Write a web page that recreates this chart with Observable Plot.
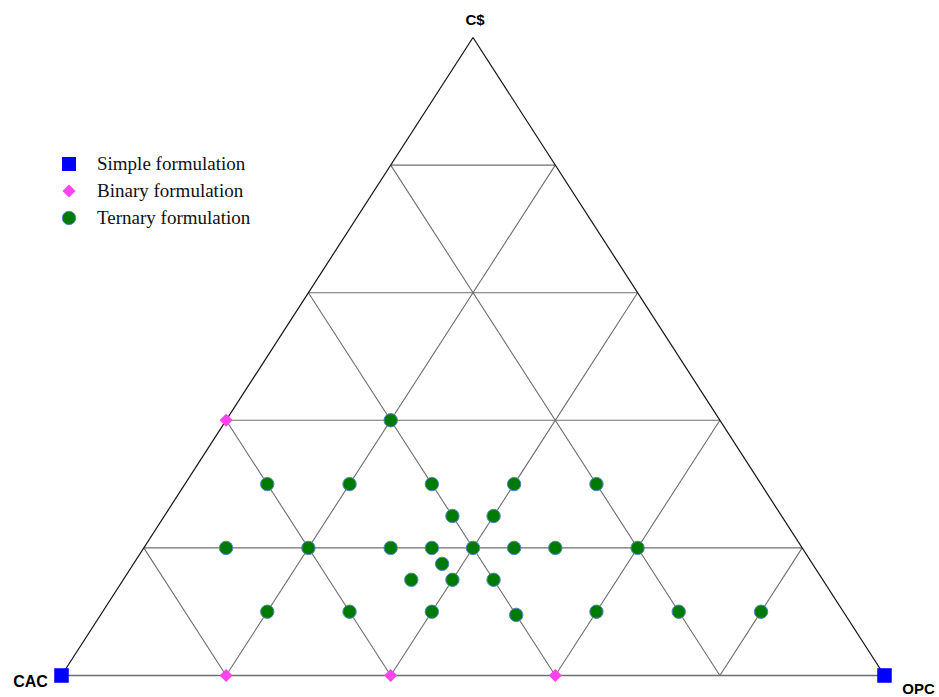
<!DOCTYPE html>
<html>
<head>
<meta charset="utf-8">
<script src="https://cdn.jsdelivr.net/npm/d3@7"></script>
<script src="https://cdn.jsdelivr.net/npm/@observablehq/plot@0.6"></script>
<style>
  html, body { margin: 0; padding: 0; background: #fff; }
  #wrap { position: relative; width: 939px; height: 697px; }
  #legend { position: absolute; left: 60px; top: 150px; font-family: "Liberation Serif", "Times New Roman", serif; font-size: 19px; color: #111; }
  #legend .row { display: flex; align-items: center; height: 27px; }
  #legend svg { width: 18px; height: 18px; margin-right: 19px; }
</style>
</head>
<body>
<div id="wrap">
  <div id="chart"></div>
  <div id="legend"></div>
</div>
<script>
// Vertex names (CAC, OPC, C$)
const vertexNames = ["CAC", "OPC", "C$"];
// Grid levels
const gridLevels = [0.2, 0.4, 0.6, 0.8];

// Compositions as [CAC, OPC, C$]
const simplePts = [[1, 0, 0], [0, 1, 0]];
const binaryPts = [[0.6, 0, 0.4], [0.8, 0.2, 0], [0.6, 0.4, 0], [0.4, 0.6, 0]];
const ternaryPts = [
  [0.4, 0.2, 0.4],
  [0.6, 0.1, 0.3], [0.5, 0.2, 0.3], [0.4, 0.3, 0.3], [0.3, 0.4, 0.3], [0.2, 0.5, 0.3],
  [0.4, 0.35, 0.25], [0.35, 0.4, 0.25],
  [0.7, 0.1, 0.2], [0.6, 0.2, 0.2], [0.5, 0.3, 0.2], [0.45, 0.35, 0.2], [0.4, 0.4, 0.2],
  [0.35, 0.45, 0.2], [0.3, 0.5, 0.2], [0.2, 0.6, 0.2],
  [0.45, 0.375, 0.175],
  [0.5, 0.35, 0.15], [0.45, 0.4, 0.15], [0.4, 0.45, 0.15],
  [0.7, 0.2, 0.1], [0.6, 0.3, 0.1], [0.5, 0.4, 0.1], [0.4, 0.505, 0.095],
  [0.3, 0.6, 0.1], [0.2, 0.7, 0.1], [0.1, 0.8, 0.1]
];

const legendLabels = ["Simple formulation", "Binary formulation", "Ternary formulation"];

// ternary -> cartesian (x in [0,1], y in [0,1])
const tx = ([a, b, c]) => b + c / 2;
const ty = ([a, b, c]) => c;
const toXY = p => ({x: tx(p), y: ty(p)});

// grid segments
const grid = [];
for (const k of gridLevels) {
  grid.push({p1: [1 - k, 0, k], p2: [0, 1 - k, k]});   // C$ = k
  grid.push({p1: [1 - k, k, 0], p2: [0, k, 1 - k]});   // OPC = k
  grid.push({p1: [k, 1 - k, 0], p2: [k, 0, 1 - k]});   // CAC = k
}
const gridSegs = grid.map(s => ({x1: tx(s.p1), y1: ty(s.p1), x2: tx(s.p2), y2: ty(s.p2)}));
const bottomEdge = [{x1: tx([1,0,0]), y1: ty([1,0,0]), x2: tx([0,1,0]), y2: ty([0,1,0])}];
const sideEdges = [
  {x1: tx([1,0,0]), y1: ty([1,0,0]), x2: tx([0,0,1]), y2: ty([0,0,1])},
  {x1: tx([0,1,0]), y1: ty([0,1,0]), x2: tx([0,0,1]), y2: ty([0,0,1])}
];
const vertices = [[1,0,0],[0,1,0],[0,0,1]].map((p, i) => ({...toXY(p), name: vertexNames[i]}));

const SIMPLE = "#0000ff", BINARY = "#ff44ee", TERN = "#007a00", TERN_STROKE = "#4f86c6";

const chart = Plot.plot({
  width: 939,
  height: 697,
  marginLeft: 61,
  marginRight: 55,
  marginTop: 37,
  marginBottom: 22,
  x: {domain: [0, 1], axis: null},
  y: {domain: [0, 1], axis: null},
  style: {background: "#fff"},
  marks: [
    Plot.link(gridSegs, {x1: "x1", y1: "y1", x2: "x2", y2: "y2", stroke: "#6e6e6e", strokeWidth: 1.1}),
    Plot.link(bottomEdge, {x1: "x1", y1: "y1", x2: "x2", y2: "y2", stroke: "#6e6e6e", strokeWidth: 1.3}),
    Plot.link(sideEdges, {x1: "x1", y1: "y1", x2: "x2", y2: "y2", stroke: "#111", strokeWidth: 1.2}),
    Plot.dot(ternaryPts.map(toXY), {x: "x", y: "y", r: 6.7, fill: TERN, stroke: TERN_STROKE, strokeWidth: 1}),
    Plot.dot(binaryPts.map(toXY), {x: "x", y: "y", symbol: "diamond2", r: 5.9, fill: BINARY}),
    Plot.dot(simplePts.map(toXY), {x: "x", y: "y", symbol: "square", r: 8.2, fill: SIMPLE}),
    Plot.text(vertices.filter(d => d.name === "C$"), {x: "x", y: "y", text: "name", dy: -17, dx: 2, fontSize: 15, fontWeight: "bold", fontFamily: "Liberation Sans, Arial, sans-serif", fill: "#000"}),
    Plot.text(vertices.filter(d => d.name === "CAC"), {x: "x", y: "y", text: "name", dx: -31, dy: 0, fontSize: 16, fontWeight: "bold", fontFamily: "Liberation Sans, Arial, sans-serif", fill: "#000", lineAnchor: "top"}),
    Plot.text(vertices.filter(d => d.name === "OPC"), {x: "x", y: "y", text: "name", dx: 34, dy: 8, fontSize: 15, fontWeight: "bold", fontFamily: "Liberation Sans, Arial, sans-serif", fill: "#000", lineAnchor: "top"})
  ]
});
document.getElementById("chart").appendChild(chart);

// legend
const legendSymbols = [
  `<svg viewBox="-9 -9 18 18"><rect x="-7" y="-7" width="14" height="14" fill="${SIMPLE}"/></svg>`,
  `<svg viewBox="-9 -9 18 18"><path d="M0,-6.5L6.5,0L0,6.5L-6.5,0Z" fill="${BINARY}"/></svg>`,
  `<svg viewBox="-9 -9 18 18"><circle r="6.7" fill="${TERN}" stroke="${TERN_STROKE}" stroke-width="1"/></svg>`
];
const lg = document.getElementById("legend");
legendLabels.forEach((t, i) => {
  const row = document.createElement("div");
  row.className = "row";
  row.innerHTML = legendSymbols[i] + `<span>${t}</span>`;
  lg.appendChild(row);
});
</script>
</body>
</html>
